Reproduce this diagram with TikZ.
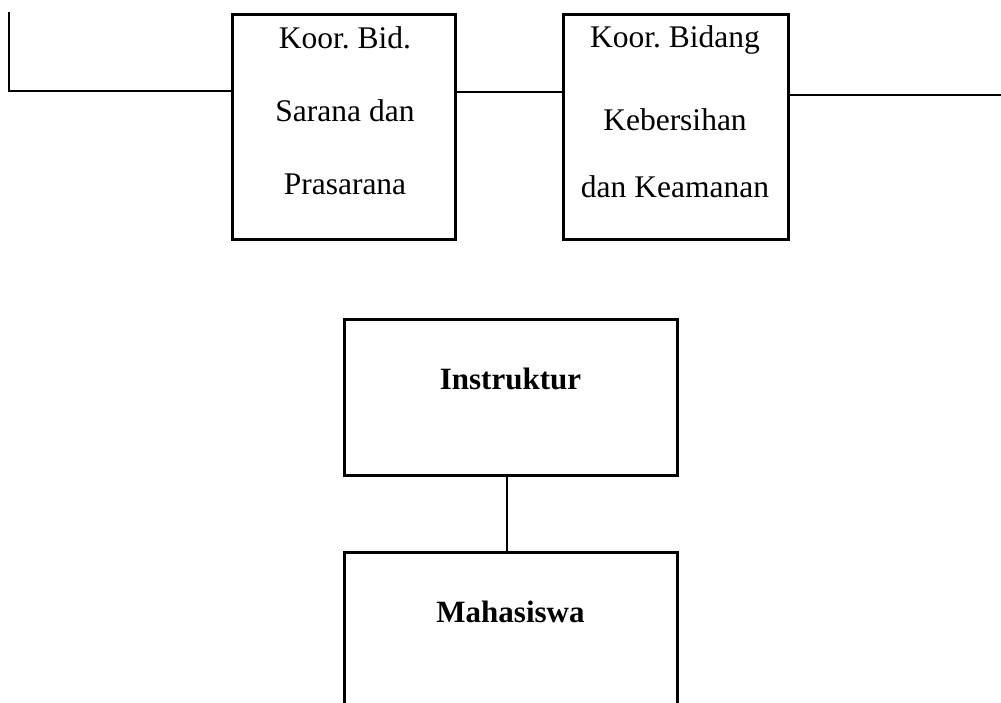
\documentclass[tikz,border=0pt]{standalone}
\usepackage{fontspec}
\setmainfont{Liberation Serif}
\frenchspacing
\begin{document}
\begin{tikzpicture}[x=1pt,y=1pt,
  orgbox/.style={draw=black, line width=3pt, inner sep=0pt, outer sep=0pt},
  boxtext/.style={align=center, inner sep=0pt, font=\fontsize{31.5}{73}\selectfont},
  boldbox/.style={orgbox, minimum width=333pt, minimum height=156pt,
    font=\fontsize{31}{36}\selectfont\bfseries, text depth=37pt, text height=21pt},
  link/.style={draw=black, line width=1.6pt}]
\fill[white] (0,0) rectangle (1001,-703);
\useasboundingbox (0,0) rectangle (1001,-703);
% top boxes
\node[orgbox, minimum width=223pt, minimum height=225pt] (b1) at (343.5,-127.5) {};
\node[orgbox, minimum width=225pt, minimum height=225pt] (b2) at (675.5,-127.5) {};
\node[boxtext, anchor=north] (t1) at (345,-26) {Koor. Bid.\\Sarana dan\\Prasarana};
\node[boxtext, anchor=north] (t2) at (675,-25) {Koor. Bidang\\[10pt]Kebersihan\\[-6pt]dan Keamanan};
% connectors of top row
\coordinate (ltop) at (9,-13);
\coordinate (lcorner) at (9,-91);
\coordinate (rend) at (1001,-95);
\draw[link, line cap=rect] (ltop) -- (lcorner) -- (lcorner -| b1.west);
\draw[link] (b1.east |- 0,-92) -- (b2.west |- 0,-92);
\draw[link] (rend -| b2.east) -- (rend);
% lower boxes
\node[boldbox] (ins) at (510.5,-397) {Instruktur};
\node[boldbox] (mhs) at (510.5,-630) {Mahasiswa};
\draw[link, line width=1.4pt] (ins.south -| 507,0) -- (mhs.north -| 507,0);
\end{tikzpicture}
\end{document}
